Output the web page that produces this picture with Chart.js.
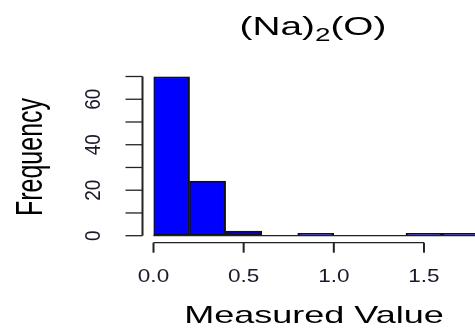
<!DOCTYPE html>
<html>
<head>
<meta charset="utf-8">
<script src="https://cdn.jsdelivr.net/npm/chart.js@4"></script>
<style>
  html, body { margin: 0; padding: 0; background: #fff; }
  #wrap { width: 475px; height: 332px; }
</style>
</head>
<body>
<div id="wrap"><canvas id="chartCanvas"></canvas></div>
<script>
// histogram bins (width 0.2) and counts
let binMids = [0.1, 0.3, 0.5, 0.7, 0.9, 1.1, 1.3, 1.5, 1.7];
let counts = [70, 24, 2, 0, 1, 0, 0, 1, 1];
let xTicks = [0, 0.5, 1.0, 1.5];
let xTickLabels = ['0.0', '0.5', '1.0', '1.5'];
let yTicks = [0, 10, 20, 30, 40, 50, 60, 70];
let yLabelTicks = [0, 20, 40, 60];

const FONT = '"Liberation Sans", Arial, sans-serif';

// the reference is stretched sideways, so text gets a horizontal scale
function stretchedText(ctx, txt, x, y, size, sx, rotate) {
    ctx.save();
    ctx.translate(x, y);
    ctx.scale(sx, 1);
    if (rotate) ctx.rotate(-Math.PI / 2);
    ctx.font = size + 'px ' + FONT;
    ctx.fillText(txt, 0, 0);
    ctx.restore();
}

const rAxes = {
    id: 'rAxes',
    afterDatasetsDraw(chart) {
        const ctx = chart.ctx;
        const xs = chart.scales.x, ys = chart.scales.y;
        const y0 = ys.getPixelForValue(0);
        const x0 = xs.getPixelForValue(0);

        ctx.save();
        ctx.strokeStyle = '#222';

        // baseline of the empty bins
        ctx.lineWidth = 1.3;
        ctx.beginPath();
        ctx.moveTo(x0, y0);
        ctx.lineTo(chart.chartArea.right, y0);
        ctx.stroke();

        // x axis, detached below the bars
        const ax = y0 + 7;
        ctx.lineWidth = 1.3;
        ctx.beginPath();
        ctx.moveTo(xs.getPixelForValue(xTicks[0]), ax);
        ctx.lineTo(xs.getPixelForValue(xTicks[xTicks.length - 1]), ax);
        ctx.stroke();
        ctx.lineWidth = 2;
        xTicks.forEach(v => {
            const px = xs.getPixelForValue(v);
            ctx.beginPath();
            ctx.moveTo(px, ax);
            ctx.lineTo(px, ax + 10);
            ctx.stroke();
        });

        // y axis, detached left of the bars
        const ay = x0 - 11;
        ctx.lineWidth = 2;
        ctx.beginPath();
        ctx.moveTo(ay, ys.getPixelForValue(yTicks[0]));
        ctx.lineTo(ay, ys.getPixelForValue(yTicks[yTicks.length - 1]));
        ctx.stroke();
        ctx.lineWidth = 1.3;
        yTicks.forEach(v => {
            const py = ys.getPixelForValue(v);
            ctx.beginPath();
            ctx.moveTo(ay, py);
            ctx.lineTo(ay - 17, py);
            ctx.stroke();
        });

        // tick labels
        ctx.fillStyle = '#1a1a2e';
        ctx.textAlign = 'center';
        ctx.textBaseline = 'alphabetic';
        xTicks.forEach((v, i) => {
            stretchedText(ctx, xTickLabels[i], xs.getPixelForValue(v), ax + 39, 18, 1.25, false);
        });
        yLabelTicks.forEach(v => {
            stretchedText(ctx, String(v), ay - 43, ys.getPixelForValue(v), 19, 1.15, true);
        });

        // axis titles
        ctx.fillStyle = '#000';
        stretchedText(ctx, 'Measured Value', 314, 323, 24, 1.5, false);
        stretchedText(ctx, 'Frequency', 42, 157, 25, 1.5, true);

        // main title with subscript
        ctx.textAlign = 'left';
        const sx = 1.55;
        ctx.font = '25px ' + FONT;
        const w1 = ctx.measureText('(Na)').width;
        const w3 = ctx.measureText('(O)').width;
        ctx.font = '18px ' + FONT;
        const w2 = ctx.measureText('2').width;
        let left = 313 - (w1 + w2 + w3) * sx / 2;
        stretchedText(ctx, '(Na)', left, 35, 25, sx, false);
        left += w1 * sx;
        stretchedText(ctx, '2', left, 41, 18, sx, false);
        left += w2 * sx;
        stretchedText(ctx, '(O)', left, 35, 25, sx, false);

        ctx.restore();
    }
};

let chart = new Chart('chartCanvas', {
    type: 'bar',
    data: {
        datasets: [{
            data: binMids.map((m, i) => ({ x: m, y: counts[i] })),
            backgroundColor: '#0000ff',
            borderColor: '#111',
            borderWidth: 2,
            borderSkipped: false,
            barPercentage: 1,
            categoryPercentage: 1
        }]
    },
    options: {
        responsive: true,
        maintainAspectRatio: false,
        animation: false,
        layout: { padding: { left: 153.5, right: 0, top: 76.5, bottom: 96.3 } },
        plugins: {
            legend: { display: false },
            title: { display: false },
            tooltip: { enabled: false }
        },
        scales: {
            x: { type: 'linear', min: 0, max: 1.783, offset: false, grid: { offset: false }, display: false },
            y: { min: 0, max: 70, display: false }
        }
    },
    plugins: [rAxes]
});
</script>
</body>
</html>
